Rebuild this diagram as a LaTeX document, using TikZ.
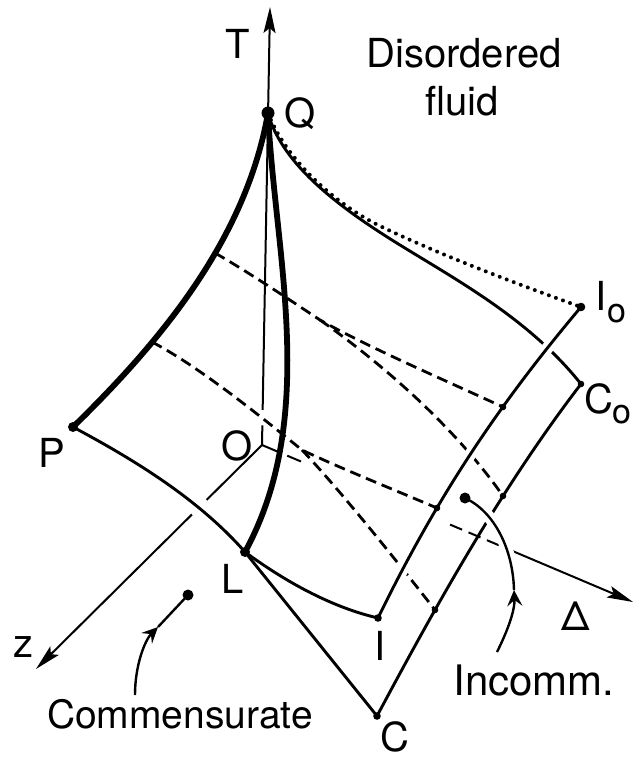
\documentclass[tikz,border=0pt]{standalone}
\usepackage{fontspec}
\setmainfont{TeX Gyre Heros}
\usetikzlibrary{arrows.meta,calc}
\begin{document}
\begin{tikzpicture}[x=1pt,y=-1pt,
  thinax/.style={line width=2pt},
  edge/.style={line width=2.9pt},
  ptrline/.style={line width=2.4pt},
  boldline/.style={line width=5.8pt, line cap=round},
  hid/.style={line width=2.8pt, dash pattern=on 11pt off 6pt},
  dotline/.style={line width=4pt, line cap=round, dash pattern=on 0pt off 7.5pt},
  lbl/.style={anchor=base, inner sep=0pt, font=\fontsize{40}{44}\selectfont},
  mask/.style={preaction={draw, white, line width=12pt}},
  axtip/.style={-{Stealth[length=26pt,width=12pt,inset=5pt]}},
  ptrtip/.style={-{Stealth[length=16pt,width=15pt,inset=6pt]}}
]
\useasboundingbox (0,0) rectangle (639,761);

% key points
\coordinate (O) at (262,445);
\coordinate (Ttip) at (270,7);
\coordinate (Ztip) at (36,669);
\coordinate (Dtip) at (633,602);
\coordinate (Q) at (268,113);
\coordinate (P) at (73,427);
\coordinate (L) at (245,552);
\coordinate (I) at (378,618);
\coordinate (C) at (377,716);
\coordinate (I0) at (581,307);
\coordinate (C0) at (581,384);
\coordinate (A1) at (215,253);
\coordinate (A2) at (152,342);
\coordinate (S1) at (320,320);
\coordinate (S2) at (302,450);
\coordinate (D1) at (503,407);
\coordinate (D2) at (503,496);
\coordinate (D3) at (437,508);
\coordinate (D4) at (435,610);
\coordinate (Cm) at (188,595);
\coordinate (In) at (465,498);
\coordinate (CmA) at (158,627);
\coordinate (CmS) at (135,695);
\coordinate (InA) at (514,590);
\coordinate (InS) at (497,652);

% axes
\draw[thinax] (O) -- ($(O)!0.045!(Ttip)$);
\draw[thinax, axtip] ($(O)!0.08!(Ttip)$) -- (Ttip);
\draw[thinax] (O) -- ($(O)!0.245!(Ztip)$);
\draw[thinax, axtip] ($(O)!0.31!(Ztip)$) -- (Ztip);
\draw[thinax] (O) -- ($(O)!0.052!(Dtip)$);
\draw[thinax] ($(O)!0.068!(Dtip)$) -- ($(O)!0.105!(Dtip)$);
\draw[thinax, dash pattern=on 13pt off 7pt] ($(O)!0.507!(Dtip)$) -- ($(O)!0.66!(Dtip)$);
\draw[thinax, axtip] ($(O)!0.66!(Dtip)$) -- (Dtip);

% surface edges behind
\draw[edge] (P) .. controls (125,455) and (195,495) .. (L);
\draw[edge] (Q) .. controls (282,165) and (340,208) .. (400,245)
                .. controls (460,282) and (530,320) .. (C0);
\draw[hid] (S1) .. controls (370,355) and (450,420) .. (D2);
\draw[hid] (S2) .. controls (340,490) and (400,565) .. (D4);

% I line in front
\draw[edge, mask] (I) .. controls (435,501) and (495,409) .. (I0);

\draw[dotline] (Q) .. controls (286,160) and (335,204) .. (380,226)
                   .. controls (440,255) and (520,285) .. (I0);
\draw[edge] (L) .. controls (290,585) and (335,608) .. (I);

\draw[hid] (A1) .. controls (245,270) and (290,300) .. (S1)
                .. controls (370,348) and (440,378) .. (D1);
\draw[hid] (A2) .. controls (200,367) and (265,420) .. (S2)
                .. controls (340,468) and (390,488) .. (D3);

\draw[edge] (C) .. controls (430,617) and (498,492) .. (C0);

% pointers
\draw[ptrline, mask] (InA) .. controls (513,550) and (495,512) .. (In);
\draw[ptrline, ptrtip] (InS) .. controls (508,630) and (515,610) .. (InA);
\draw[ptrline] (CmA) -- (Cm);
\draw[ptrline, ptrtip] (CmS) .. controls (135,665) and (145,640) .. (CmA);

% bold lines
\draw[boldline] (Q) .. controls (246,239) and (161,341) .. (P);
\draw[boldline] (Q) .. controls (275,256) and (319,416) .. (L);
\draw[edge] (L) -- (C);

% dots
\fill (Q) circle (6.5pt);
\fill (P) circle (5pt);
\fill (L) circle (5pt);
\fill (I) circle (3.8pt);
\fill (C) circle (3.8pt);
\fill (I0) circle (4.3pt);
\fill (C0) circle (3.3pt);
\foreach \d in {D1,D2,D3,D4} \fill (\d) circle (3.3pt);
\fill (Cm) circle (5.5pt);
\fill (In) circle (5.5pt);

% labels
\node[lbl] (lT) at (238,58) {T};
\node[lbl] (lQ) at (300,127) {Q};
\node[lbl] (lDis) at (464,67) {Disordered};
\node[lbl] (lfl) at (462,115) {fluid};
\node[lbl] (lI0) at (611,310) {I\raisebox{-12pt}{\fontsize{34}{34}\selectfont o}};
\node[lbl] (lC0) at (608,413) {C\raisebox{-10pt}{\fontsize{34}{34}\selectfont o}};
\node[lbl] (lP) at (52,467) {P};
\node[lbl] (lO) at (237,460) {O};
\node[lbl] (lL) at (233,593) {L};
\node[lbl] (lz) at (23,657) {z};
\node[lbl] (lI) at (380,660) {I};
\node[lbl] (lC) at (395,751) {C};
\node[lbl] (lD) at (576,630) {Δ};
\node[lbl, font=\fontsize{39}{44}\selectfont] (lCm) at (180,728) {Commensurate};
\node[lbl, font=\fontsize{42}{44}\selectfont] (lIn) at (534,695) {Incomm.};
\end{tikzpicture}
\end{document}
